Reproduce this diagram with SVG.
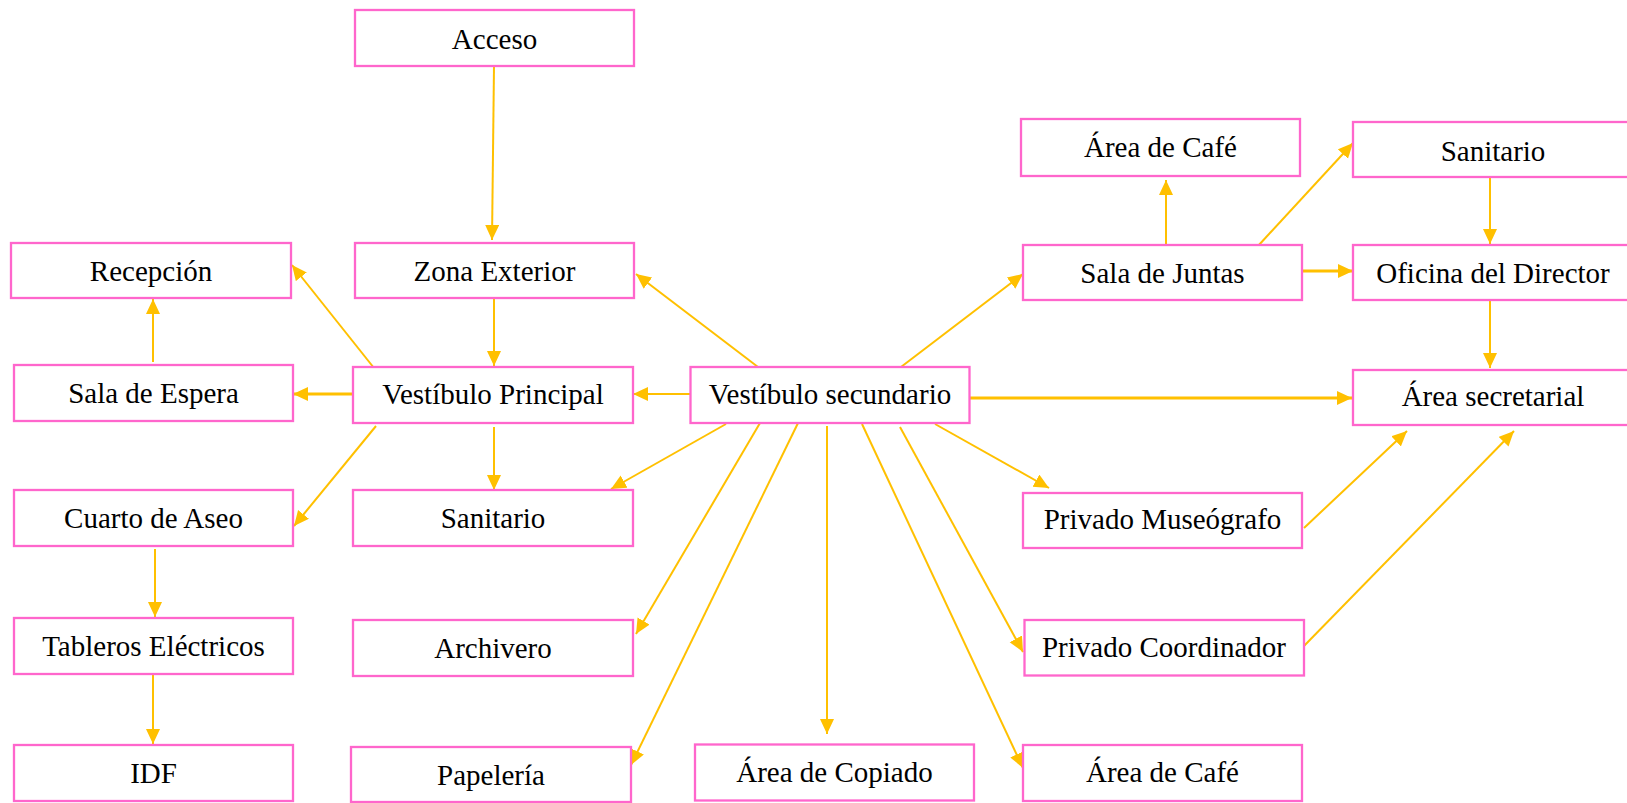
<svg xmlns="http://www.w3.org/2000/svg" width="1627" height="803" viewBox="0 0 1627 803">
<style>
.box{fill:#FFFFFF;stroke:#FF66CC;stroke-width:2.3}
.lbl{font-family:"Liberation Serif","Times New Roman",serif;font-size:29px;fill:#000000;text-anchor:middle}
.c{stroke:#FFC000;stroke-width:2;fill:none;marker-end:url(#ah)}
.t{stroke-width:2.8}
</style>
<defs>
<marker id="ah" markerUnits="userSpaceOnUse" markerWidth="16" markerHeight="15" refX="15" refY="7" orient="auto">
<path d="M0,0 L15,7 L0,14 Z" fill="#FFC000"/>
</marker>
</defs>
<rect width="1627" height="803" fill="#FFFFFF"/>
<g id="connectors">
<line class="c" x1="494" y1="66" x2="492" y2="240"/>
<line class="c" x1="494" y1="299" x2="494" y2="366"/>
<line class="c" x1="374" y1="368" x2="292" y2="265"/>
<line class="c" x1="153" y1="362" x2="153" y2="299"/>
<line class="c t" x1="353" y1="394" x2="293" y2="394"/>
<line class="c" x1="376" y1="426" x2="294" y2="526"/>
<line class="c" x1="494" y1="427" x2="494" y2="490"/>
<line class="c" x1="155" y1="549" x2="155" y2="617"/>
<line class="c" x1="153" y1="672" x2="153" y2="744"/>
<line class="c" x1="758" y1="367" x2="636" y2="274"/>
<line class="c" x1="690" y1="394" x2="633" y2="394"/>
<line class="c" x1="901" y1="367" x2="1023" y2="274"/>
<line class="c" x1="1166" y1="247" x2="1166" y2="180"/>
<line class="c" x1="1258" y1="246" x2="1353" y2="143"/>
<line class="c t" x1="1302" y1="271" x2="1353" y2="271"/>
<line class="c" x1="1490" y1="177" x2="1490" y2="244"/>
<line class="c" x1="1490" y1="301" x2="1490" y2="368"/>
<line class="c t" x1="970" y1="398" x2="1352" y2="398"/>
<line class="c" x1="726" y1="424" x2="611" y2="489"/>
<line class="c" x1="760" y1="423" x2="636" y2="634"/>
<line class="c" x1="799" y1="421" x2="631" y2="765"/>
<line class="c" x1="827" y1="426" x2="827" y2="734"/>
<line class="c" x1="862" y1="424" x2="1023" y2="768"/>
<line class="c" x1="900" y1="427" x2="1023" y2="652"/>
<line class="c" x1="935" y1="424" x2="1049" y2="488"/>
<line class="c" x1="1304" y1="528" x2="1407" y2="431"/>
<line class="c" x1="1303" y1="647" x2="1514" y2="431"/>
</g>
<g id="n-acceso"><rect class="box" x="355" y="10" width="279" height="56"/><text class="lbl" x="494.5" y="48.5">Acceso</text></g>
<g id="n-zona-exterior"><rect class="box" x="355" y="243" width="279" height="55"/><text class="lbl" x="494.5" y="281">Zona Exterior</text></g>
<g id="n-recepcion"><rect class="box" x="11" y="243" width="280" height="55"/><text class="lbl" x="151" y="281">Recepción</text></g>
<g id="n-sala-espera"><rect class="box" x="14" y="365" width="279" height="56"/><text class="lbl" x="153.5" y="403">Sala de Espera</text></g>
<g id="n-vestibulo-principal"><rect class="box" x="353" y="367" width="280" height="56"/><text class="lbl" x="493" y="403.5">Vestíbulo Principal</text></g>
<g id="n-cuarto-aseo"><rect class="box" x="14" y="490" width="279" height="56"/><text class="lbl" x="153.5" y="527.5">Cuarto de Aseo</text></g>
<g id="n-sanitario-1"><rect class="box" x="353" y="490" width="280" height="56"/><text class="lbl" x="493" y="527.5">Sanitario</text></g>
<g id="n-tableros"><rect class="box" x="14" y="618" width="279" height="56"/><text class="lbl" x="153.5" y="656">Tableros Eléctricos</text></g>
<g id="n-archivero"><rect class="box" x="353" y="620" width="280" height="56"/><text class="lbl" x="493" y="657.5">Archivero</text></g>
<g id="n-idf"><rect class="box" x="14" y="745" width="279" height="56"/><text class="lbl" x="153.5" y="782.5">IDF</text></g>
<g id="n-papeleria"><rect class="box" x="351" y="747" width="280" height="55"/><text class="lbl" x="491" y="785">Papelería</text></g>
<g id="n-vestibulo-secundario"><rect class="box" x="690.5" y="367" width="279" height="56"/><text class="lbl" x="830" y="403.5">Vestíbulo secundario</text></g>
<g id="n-area-copiado"><rect class="box" x="695" y="744.5" width="279" height="56"/><text class="lbl" x="834.5" y="781.5">Área de Copiado</text></g>
<g id="n-area-cafe-2"><rect class="box" x="1023" y="745" width="279" height="56"/><text class="lbl" x="1162.5" y="781.5">Área de Café</text></g>
<g id="n-privado-coordinador"><rect class="box" x="1024.5" y="620" width="279.5" height="55.5"/><text class="lbl" x="1164" y="656.5">Privado Coordinador</text></g>
<g id="n-privado-museografo"><rect class="box" x="1023" y="493" width="279" height="55"/><text class="lbl" x="1162.5" y="528.5">Privado Museógrafo</text></g>
<g id="n-area-secretarial"><rect class="box" x="1353" y="370" width="282" height="55"/><text class="lbl" x="1493" y="405.5">Área secretarial</text></g>
<g id="n-sala-juntas"><rect class="box" x="1023" y="245" width="279" height="55"/><text class="lbl" x="1162.5" y="282.5">Sala de Juntas</text></g>
<g id="n-oficina-director"><rect class="box" x="1353" y="245" width="282" height="55"/><text class="lbl" x="1493" y="282.5">Oficina del Director</text></g>
<g id="n-area-cafe-1"><rect class="box" x="1021" y="119" width="279" height="57"/><text class="lbl" x="1160.5" y="156.5">Área de Café</text></g>
<g id="n-sanitario-2"><rect class="box" x="1353" y="122" width="282" height="55"/><text class="lbl" x="1493" y="160.5">Sanitario</text></g>
</svg>
